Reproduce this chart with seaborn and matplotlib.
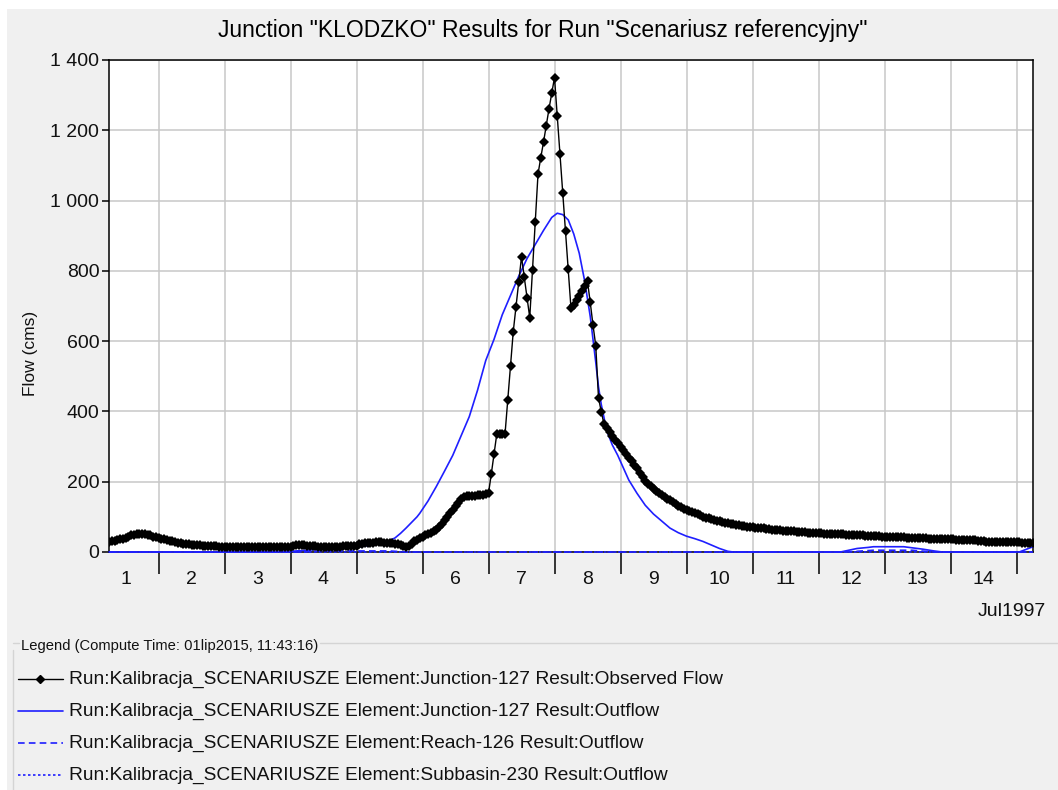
import numpy as np
import pandas as pd
import matplotlib
matplotlib.use("Agg")
import matplotlib.pyplot as plt
import seaborn as sns
from matplotlib.lines import Line2D
from matplotlib.patches import Rectangle
from matplotlib.ticker import FixedLocator, FuncFormatter, NullFormatter

# ---------------- data (hours counted from 1 Jul 1997 00:00) ----------------
obs_start_hour = 6
obs_day1 = [28, 30, 32, 34, 36, 38, 41, 44, 47, 49, 51, 52, 52, 51, 49, 47, 44, 42]
obs_day2 = [40, 38, 36, 34, 32, 30, 28, 26, 25, 24, 23, 22, 21, 20, 19, 19, 18, 18, 17, 17, 16, 16, 15, 15]
obs_day3 = [14, 14, 14, 14, 14, 14, 13, 13, 13, 13, 13, 13, 13, 13, 13, 13, 13, 13, 13, 13, 13, 13, 13, 13]
obs_day4 = [15, 18, 19, 19, 19, 19, 18, 17, 16, 16, 15, 15, 15, 15, 15, 15, 15, 15, 15, 16, 16, 17, 17, 17]
obs_day5 = [18, 22, 24, 25, 26, 27, 27, 28, 28, 28, 27, 27, 26, 25, 24, 22, 19, 16, 15, 18, 24, 30, 35, 40]
obs_day6 = [44, 47, 51, 55, 59, 63, 70, 80, 90, 100, 110, 120, 130, 140, 150, 157, 158, 158, 159, 160, 161, 162, 163, 164]
obs_day7 = [167, 221, 279, 335, 335, 335, 335, 433, 530, 627, 698, 768, 840, 783, 724, 667, 802, 938, 1075, 1122, 1166, 1213, 1261, 1305]
obs_day8 = [1350, 1241, 1133, 1022, 914, 805, 693, 703, 716, 729, 742, 756, 770, 710, 646, 587, 439, 399, 364, 352, 341, 330, 320, 310]
obs_day9 = [300, 290, 279, 268, 258, 248, 238, 226, 214, 203, 194, 187, 180, 174, 168, 162, 157, 152, 147, 142, 137, 132, 127, 123]
obs_day10 = [119, 116, 113, 110, 107, 104, 101, 98, 96, 93, 91, 89, 87, 85, 83, 82, 80, 79, 77, 76, 75, 73, 72, 71]
obs_day11 = [70, 69, 68, 68, 67, 66, 65, 64, 64, 63, 62, 61, 61, 60, 59, 59, 58, 57, 57, 56, 55, 55, 54, 54]
obs_day12 = [53, 53, 52, 52, 52, 51, 51, 50, 50, 50, 49, 49, 48, 48, 48, 47, 47, 46, 46, 46, 45, 45, 45, 44]
obs_day13 = [44, 44, 43, 43, 43, 42, 42, 42, 41, 41, 40, 40, 40, 39, 39, 39, 38, 38, 38, 37, 37, 37, 36, 36]
obs_day14 = [36, 36, 35, 35, 35, 34, 34, 34, 33, 33, 32, 31, 30, 29, 29, 29, 29, 28, 28, 28, 28, 28, 28, 28]
obs_day15 = [28, 28, 27, 27, 27, 27, 27]

outflow_hours = [6, 66, 72, 80, 88, 96, 102, 107, 110, 112, 114, 116, 118, 119, 122, 125, 128, 131, 134,
                 137, 140, 143, 146, 149, 152, 155, 158, 161, 164, 167, 169, 171, 173, 175, 177, 179, 181,
                 183, 184, 185, 187, 189, 191, 193, 195, 198, 201, 204, 207, 210, 213, 216, 219, 222, 225,
                 228, 231, 233, 272, 275, 278, 282, 284, 295, 299, 302, 306, 309, 337, 342]
outflow_vals = [0, 0, 2, 6, 10, 14, 20, 29, 40, 53, 68, 84, 100, 110, 145, 186, 230, 275, 330,
                385, 460, 545, 605, 675, 730, 785, 835, 875, 915, 952, 964, 960, 945, 905, 850, 770, 670,
                540, 470, 420, 345, 305, 275, 240, 205, 167, 133, 108, 88, 68, 55, 45, 38, 30, 20,
                10, 2, 0, 0, 5, 10, 13, 15, 15, 11, 8, 3, 0, 0, 15]

reach_hours = [6, 76, 84, 108, 114, 274, 284, 298, 306, 342]
reach_vals = [0, 0, 3, 3, 0, 0, 5, 5, 0, 0]

subbasin_hours = [6, 342]
subbasin_vals = [0, 0]

day_labels = [str(d) for d in range(1, 15)]
y_ticks = [0, 200, 400, 600, 800, 1000, 1200, 1400]

title = 'Junction "KLODZKO" Results for Run "Scenariusz referencyjny"'
legend_title = "Legend (Compute Time: 01lip2015, 11:43:16)"
series_names = [
    "Run:Kalibracja_SCENARIUSZE Element:Junction-127 Result:Observed Flow",
    "Run:Kalibracja_SCENARIUSZE Element:Junction-127 Result:Outflow",
    "Run:Kalibracja_SCENARIUSZE Element:Reach-126 Result:Outflow",
    "Run:Kalibracja_SCENARIUSZE Element:Subbasin-230 Result:Outflow",
]

# ---------------- build frames ----------------
observed = (obs_day1 + obs_day2 + obs_day3 + obs_day4 + obs_day5 + obs_day6 + obs_day7 +
            obs_day8 + obs_day9 + obs_day10 + obs_day11 + obs_day12 + obs_day13 + obs_day14 + obs_day15)
df_obs = pd.DataFrame({"hour": obs_start_hour + np.arange(len(observed)), "flow": observed})
df_out = pd.DataFrame({"hour": outflow_hours, "flow": outflow_vals})
df_reach = pd.DataFrame({"hour": reach_hours, "flow": reach_vals})
df_sub = pd.DataFrame({"hour": subbasin_hours, "flow": subbasin_vals})

# ---------------- styling ----------------
sns.set_theme(style="white")
plt.rcParams["font.family"] = ["Liberation Sans", "DejaVu Sans"]

W, H = 1058, 790
fig = plt.figure(figsize=(W / 100, H / 100), dpi=100, facecolor="white")
GREY = "#f0f0f0"
fig.add_artist(Rectangle((7 / W, 0), 1 - 7 / W, 1 - 9 / H, transform=fig.transFigure,
                         facecolor=GREY, edgecolor="none", zorder=-10))

def fx(x):
    return x / W

def fy(y):
    return 1 - y / H

ax_l, ax_r, ax_t, ax_b = 109, 1033, 60, 552
ax = fig.add_axes([fx(ax_l), fy(ax_b), (ax_r - ax_l) / W, (ax_b - ax_t) / H])
ax.set_facecolor("white")

BLUE = "#1f1fff"
sns.lineplot(data=df_sub, x="hour", y="flow", ax=ax, color=BLUE, lw=1.2, ls=(0, (1.5, 1.5)),
             estimator=None, sort=False, legend=False, clip_on=False, zorder=3)
sns.lineplot(data=df_reach, x="hour", y="flow", ax=ax, color=BLUE, lw=1.2, ls=(0, (4, 2.5)),
             estimator=None, sort=False, legend=False, clip_on=False, zorder=3)
sns.lineplot(data=df_out, x="hour", y="flow", ax=ax, color=BLUE, lw=1.2,
             estimator=None, sort=False, legend=False, clip_on=False, zorder=4)
sns.lineplot(data=df_obs, x="hour", y="flow", ax=ax, color="black", lw=1.0, marker="D",
             markersize=5.3, markeredgewidth=0, markerfacecolor="black",
             estimator=None, sort=False, legend=False, zorder=5)

ax.set_xlim(6, 342)
ax.set_ylim(0, 1400)

# x ticks: midnight grid/ticks, labels at noon
ax.xaxis.set_major_locator(FixedLocator([24 * k for k in range(1, 15)]))
ax.xaxis.set_major_formatter(NullFormatter())
ax.xaxis.set_minor_locator(FixedLocator([12 + 24 * k for k in range(14)]))
ax.set_xticklabels(day_labels, minor=True)
ax.tick_params(axis="x", which="major", direction="out", length=16, width=1.1, color="black")
ax.tick_params(axis="x", which="minor", length=0, pad=14, labelsize=14, labelcolor="#111111")

ax.yaxis.set_major_locator(FixedLocator(y_ticks))
ax.yaxis.set_major_formatter(FuncFormatter(lambda v, p: f"{int(v):,}".replace(",", " ")))
ax.tick_params(axis="y", which="major", direction="out", length=5, width=1.1, color="black",
               pad=2, labelsize=14, labelcolor="#111111")
ax.tick_params(axis="both", left=True, bottom=True)

ax.grid(True, which="major", color="#c8c8c8", lw=1.1)
ax.set_axisbelow(True)
for s in ax.spines.values():
    s.set_visible(True)
    s.set_color("black")
    s.set_linewidth(1.1)

ax.set_xlabel("")
ax.set_ylabel("Flow (cms)", fontsize=12.5, color="#111111")
ax.yaxis.set_label_coords((38 - ax_l) / (ax_r - ax_l), (ax_b - 353) / (ax_b - ax_t))

fig.text(fx(543), fy(30), title, ha="center", va="center", fontsize=16.5, color="black")
fig.text(fx(1046), fy(611), "Jul1997", ha="right", va="center", fontsize=14, color="#111111")

# ---------------- legend (group box) ----------------
fig.add_artist(Line2D([fx(13), fx(13)], [fy(650), fy(790)], transform=fig.transFigure,
                      color="#d4d4d4", lw=1))
fig.add_artist(Line2D([fx(13), fx(19)], [fy(643), fy(643)], transform=fig.transFigure,
                      color="#d4d4d4", lw=1))
fig.add_artist(Line2D([fx(320), fx(1058)], [fy(643), fy(643)], transform=fig.transFigure,
                      color="#d4d4d4", lw=1))
fig.text(fx(21), fy(646), legend_title, ha="left", va="center", fontsize=10.6, color="#111111")

entry_y = [679, 711, 743, 775]
styles = [
    dict(color="black", lw=1.0, marker="D", markersize=4, markevery=[1]),
    dict(color=BLUE, lw=1.2),
    dict(color=BLUE, lw=1.2, ls=(0, (4, 2.5))),
    dict(color=BLUE, lw=1.2, ls=(0, (1.5, 1.5))),
]
for yy, name, st in zip(entry_y, series_names, styles):
    fig.add_artist(Line2D([fx(18), fx(40), fx(63)], [fy(yy)] * 3, transform=fig.transFigure, **st))
    fig.text(fx(69), fy(yy), name, ha="left", va="center", fontsize=13.8, color="#111111")

fig.savefig("out.png", dpi=100, facecolor=fig.get_facecolor())
